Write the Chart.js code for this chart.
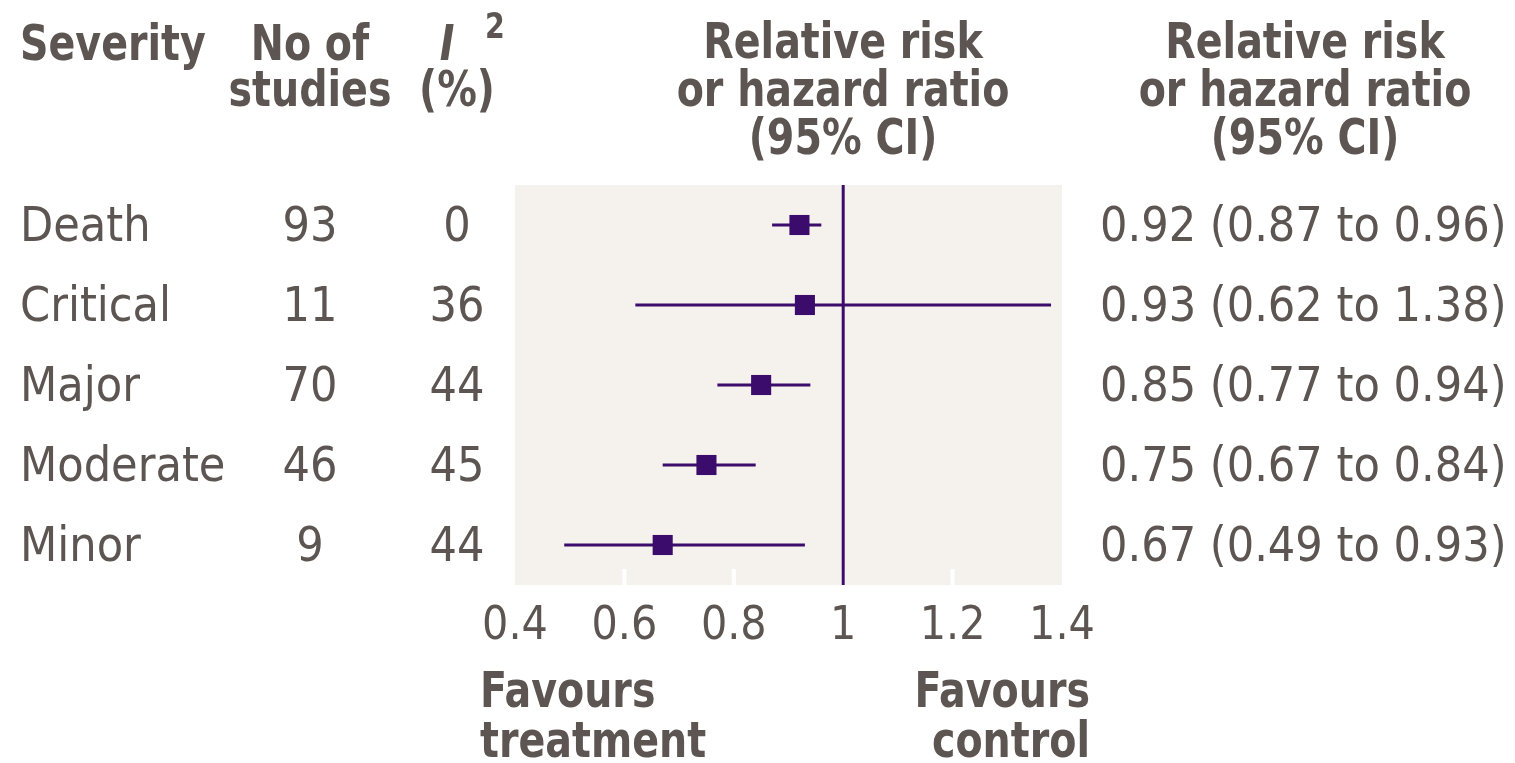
<!DOCTYPE html>
<html>
<head>
<meta charset="utf-8">
<script src="https://cdn.jsdelivr.net/npm/chart.js@4.4.1/dist/chart.umd.min.js"></script>
<style>
html,body{margin:0;padding:0;background:#fff;}
#wrap{width:1515px;height:763px;position:relative;}
</style>
</head>
<body>
<div id="wrap"><canvas id="c" width="1515" height="763"></canvas></div>
<script>
// ---- data ----
const categories = ["Death", "Critical", "Major", "Moderate", "Minor"];
const numStudies = ["93", "11", "70", "46", "9"];
const i2Values = ["0", "36", "44", "45", "44"];
const estimates = [0.92, 0.93, 0.85, 0.75, 0.67];
const lowerCI = [0.87, 0.62, 0.77, 0.67, 0.49];
const upperCI = [0.96, 1.38, 0.94, 0.84, 0.93];
const ciLabels = ["0.92 (0.87 to 0.96)", "0.93 (0.62 to 1.38)", "0.85 (0.77 to 0.94)", "0.75 (0.67 to 0.84)", "0.67 (0.49 to 0.93)"];
const xTickValues = [0.4, 0.6, 0.8, 1, 1.2, 1.4];
const xTickLabels = ["0.4", "0.6", "0.8", "1", "1.2", "1.4"];
const nullValue = 1;

const PURPLE = '#3b0c6b';
const TEXT = '#5c5552';
const BG = '#f5f2ee';
const FAM = '"DejaVu Sans Condensed", "DejaVu Sans", sans-serif';
const BOLD = 'bold 50px ' + FAM;
const SQ = 0.88; // horizontal squeeze for bold headings

const datasets = [];
categories.forEach((c, i) => {
  datasets.push({
    type: 'line',
    data: [{x: lowerCI[i], y: i}, {x: upperCI[i], y: i}],
    borderColor: PURPLE, borderWidth: 3, pointRadius: 0, fill: false
  });
});
datasets.push({
  type: 'line',
  data: [{x: nullValue, y: -0.5}, {x: nullValue, y: categories.length - 0.5}],
  borderColor: PURPLE, borderWidth: 3, pointRadius: 0, fill: false
});
datasets.push({
  type: 'scatter',
  data: estimates.map((v, i) => ({x: v, y: i})),
  pointStyle: 'rect', pointRadius: 14.2, pointHoverRadius: 14.2,
  backgroundColor: PURPLE, borderColor: PURPLE, borderWidth: 0
});

const bgPlugin = {
  id: 'bg',
  beforeDatasetsDraw(chart) {
    const {ctx, chartArea: a, scales: {x}} = chart;
    ctx.save();
    ctx.fillStyle = BG;
    ctx.fillRect(a.left, a.top, a.right - a.left, a.bottom - a.top);
    ctx.fillStyle = '#ffffff';
    xTickValues.forEach(v => {
      if (v === xTickValues[0] || v === xTickValues[xTickValues.length - 1]) return;
      const px = x.getPixelForValue(v);
      ctx.fillRect(px - 2, a.bottom - 16, 4, 16);
    });
    ctx.restore();
  }
};

function sq(ctx, text, px, py, align) {
  ctx.save();
  ctx.translate(px, py);
  ctx.scale(SQ, 1);
  ctx.textAlign = align;
  ctx.fillText(text, 0, 0);
  ctx.restore();
}

const textPlugin = {
  id: 'texts',
  afterDraw(chart) {
    const {ctx, scales: {x, y}} = chart;
    ctx.save();
    ctx.fillStyle = TEXT;
    ctx.textBaseline = 'alphabetic';
    // headers
    ctx.font = BOLD;
    sq(ctx, 'Severity', 20, 60, 'left');
    sq(ctx, 'No of', 310, 60, 'center');
    sq(ctx, 'studies', 310, 106, 'center');
    sq(ctx, '(%)', 457, 106, 'center');
    ctx.font = 'italic ' + BOLD;
    sq(ctx, 'I', 447, 60, 'center');
    ctx.font = 'bold 36px ' + FAM;
    sq(ctx, '2', 495, 38, 'center');
    ctx.font = BOLD;
    const h = ['Relative risk', 'or hazard ratio', '(95% CI)'];
    h.forEach((t, k) => {
      sq(ctx, t, 843, 58 + k * 48, 'center');
      sq(ctx, t, 1305, 58 + k * 48, 'center');
    });
    // rows
    ctx.font = '48px ' + FAM;
    categories.forEach((c, i) => {
      const py = y.getPixelForValue(i) + 16;
      ctx.textAlign = 'left';
      ctx.fillText(c, 20, py);
      ctx.textAlign = 'center';
      ctx.fillText(numStudies[i], 310, py);
      ctx.fillText(i2Values[i], 457, py);
      ctx.textAlign = 'left';
      ctx.fillText(ciLabels[i], 1100, py);
    });
    // favours
    ctx.font = BOLD;
    sq(ctx, 'Favours', 480, 707, 'left');
    sq(ctx, 'treatment', 480, 757, 'left');
    sq(ctx, 'Favours', 1090, 707, 'right');
    sq(ctx, 'control', 1090, 757, 'right');
    ctx.restore();
  }
};

new Chart(document.getElementById('c'), {
  data: {datasets},
  options: {
    responsive: false,
    animation: false,
    events: [],
    layout: {padding: {left: 515, right: 453, top: 185, bottom: 0}},
    plugins: {legend: {display: false}, tooltip: {enabled: false}},
    scales: {
      x: {
        type: 'linear', min: 0.4, max: 1.4, position: 'bottom',
        afterBuildTicks: s => { s.ticks = xTickValues.map(v => ({value: v})); },
        afterFit: s => { s.height = 178; },
        grid: {display: false, drawTicks: false},
        border: {display: false},
        ticks: {
          autoSkip: false, maxRotation: 0, padding: 14,
          color: TEXT,
          font: {family: FAM, size: 46},
          callback: (v, idx) => xTickLabels[idx]
        }
      },
      y: {type: 'linear', min: -0.5, max: categories.length - 0.5, reverse: true, display: false}
    }
  },
  plugins: [bgPlugin, textPlugin]
});
</script>
</body>
</html>
